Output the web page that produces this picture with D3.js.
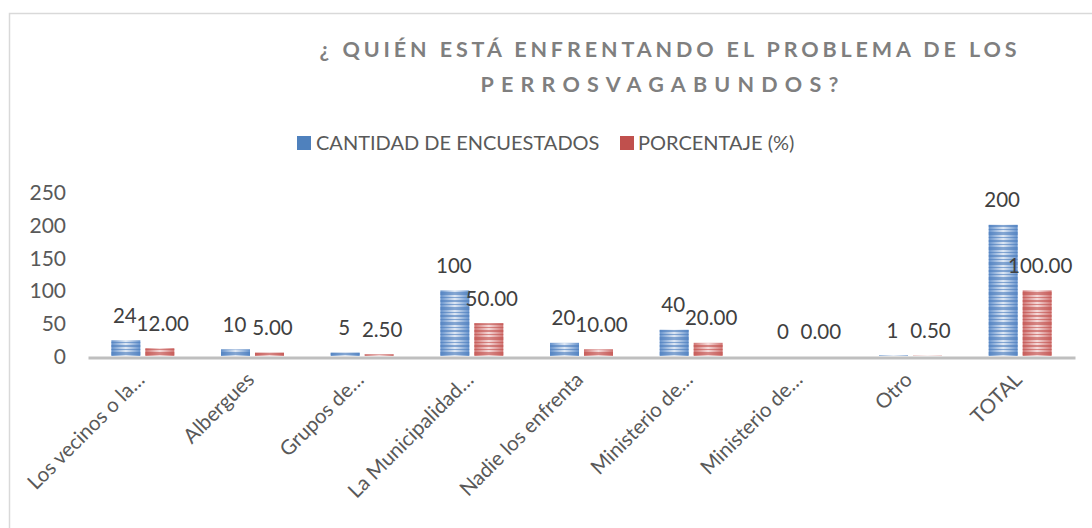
<!DOCTYPE html>
<html>
<head>
<meta charset="utf-8">
<script src="https://cdn.jsdelivr.net/npm/d3@7"></script>
<style>
  html, body { margin: 0; padding: 0; background: #ffffff; }
  svg { display: block; font-family: Lato, "Liberation Sans", sans-serif; }
</style>
</head>
<body>
<svg id="chart" width="1092" height="528"></svg>
<script>
// Survey: who is dealing with the stray dog problem
const categories = [
  "Los vecinos o la…", "Albergues", "Grupos de…", "La Municipalidad…",
  "Nadie los enfrenta", "Ministerio de…", "Ministerio de…", "Otro", "TOTAL"
];
const categoryKeys = ["vecinos", "albergues", "grupos", "municipalidad",
  "nadie", "ministerio1", "ministerio2", "otro", "total"];
const cantidad = [24, 10, 5, 100, 20, 40, 0, 1, 200];
const porcentaje = [12.00, 5.00, 2.50, 50.00, 10.00, 20.00, 0.00, 0.50, 100.00];
const seriesNames = ["CANTIDAD DE ENCUESTADOS", "PORCENTAJE (%)"];
const yTicks = [0, 50, 100, 150, 200, 250];
const titleLines = ["¿ QUIÉN ESTÁ ENFRENTANDO EL PROBLEMA DE LOS", "PERROSVAGABUNDOS?"];

const svg = d3.select("#chart");

// frame around the chart area
svg.append("rect")
  .attr("x", 9.5).attr("y", 13.5)
  .attr("width", 1200).attr("height", 600)
  .attr("fill", "none").attr("stroke", "#d9d9d9").attr("stroke-width", 1.5);

// title
const title = svg.append("g").attr("fill", "#7f7f7f")
  .attr("font-weight", "bold").attr("font-size", 21.5);
title.append("text").attr("x", 670).attr("y", 57).attr("text-anchor", "middle")
  .attr("letter-spacing", 3.9).text(titleLines[0]);
title.append("text").attr("x", 663).attr("y", 92).attr("text-anchor", "middle")
  .attr("letter-spacing", 7.2).text(titleLines[1]);

// fills: horizontal shading plus irregular horizontal stripes
const defs = svg.append("defs");
const palettes = [
  { edge: "#6592cc", mid: "#dfe8f4", stripe: "#4a7cbd", key: "#4f81bd" },
  { edge: "#d07472", mid: "#f5dada", stripe: "#c24e4b", key: "#c0504d" }
];
const stripeRows = [[0, 2], [4, 1], [7, 3], [12, 1], [15, 2], [19, 1], [22, 3], [27, 1]];
palettes.forEach((p, i) => {
  const g = defs.append("linearGradient").attr("id", "shade" + i)
    .attr("x1", "0%").attr("x2", "100%").attr("y1", "0%").attr("y2", "0%");
  g.append("stop").attr("offset", "0%").attr("stop-color", p.edge);
  g.append("stop").attr("offset", "50%").attr("stop-color", p.mid);
  g.append("stop").attr("offset", "100%").attr("stop-color", p.edge);
  const pat = defs.append("pattern").attr("id", "stripes" + i)
    .attr("patternUnits", "userSpaceOnUse").attr("width", 40).attr("height", 30);
  stripeRows.forEach(r => {
    pat.append("rect").attr("x", 0).attr("y", r[0]).attr("width", 40).attr("height", r[1])
      .attr("fill", p.stripe).attr("opacity", 0.6);
  });
});

// scales
const x = d3.scaleBand().domain(categoryKeys).range([88, 1075]).paddingInner(0).paddingOuter(0);
const xSub = d3.scaleBand().domain([0, 1]).range([0, x.bandwidth()])
  .paddingInner(0.147).paddingOuter(0.687);
const y = d3.scaleLinear().domain([0, 250]).range([356, 192]);

// y axis labels (no axis line)
const yAxis = svg.append("g").attr("transform", "translate(66,0)")
  .call(d3.axisLeft(y).tickValues(yTicks).tickSize(0).tickPadding(0).tickFormat(d3.format("d")));
yAxis.select(".domain").remove();
yAxis.selectAll("text").attr("font-family", "Lato, sans-serif").attr("font-size", 21)
  .attr("fill", "#595959").attr("dy", "0.36em");

// bars
const seriesData = [cantidad, porcentaje];
seriesData.forEach((vals, s) => {
  const g = svg.append("g");
  const bars = g.selectAll("g.bar").data(vals).join("g").attr("class", "bar");
  const bx = (d, i) => x(categoryKeys[i]) + xSub(s);
  bars.append("rect")
    .attr("x", bx).attr("y", d => y(d))
    .attr("width", xSub.bandwidth()).attr("height", d => y(0) - y(d))
    .attr("fill", `url(#shade${s})`);
  bars.append("rect")
    .attr("x", bx).attr("y", d => y(d))
    .attr("width", xSub.bandwidth()).attr("height", d => y(0) - y(d))
    .attr("fill", `url(#stripes${s})`);
});

// x axis baseline
svg.append("g").attr("transform", `translate(0,${y(0) + 1.5})`)
  .call(d3.axisBottom(x).tickSize(0).tickFormat(""))
  .call(g => g.select(".domain").attr("stroke", "#bfbfbf").attr("stroke-width", 3));

// data labels
const fmt = [d3.format("d"), d3.format(".2f")];
const labelShift = [-1, 3];
seriesData.forEach((vals, s) => {
  svg.append("g").selectAll("text").data(vals).join("text")
    .attr("x", (d, i) => x(categoryKeys[i]) + xSub(s) + xSub.bandwidth() / 2 + labelShift[s])
    .attr("y", d => y(d) - 17.5)
    .attr("text-anchor", "middle")
    .attr("font-size", 20.5).attr("fill", "#404040")
    .text(d => fmt[s](d));
});

// category labels rotated
svg.append("g").selectAll("text").data(categoryKeys).join("text")
  .attr("transform", d => `translate(${x(d) + x.bandwidth() / 2 + 3},381) rotate(-45)`)
  .attr("text-anchor", "end")
  .attr("font-size", 20.5).attr("fill", "#595959")
  .text((d, i) => categories[i]);

// legend
const legend = svg.append("g");
const legendItems = [{ x: 297, tx: 316 }, { x: 620, tx: 638 }];
legendItems.forEach((it, i) => {
  legend.append("rect").attr("x", it.x).attr("y", 136).attr("width", 14).attr("height", 14)
    .attr("fill", palettes[i].key);
  legend.append("text").attr("x", it.tx).attr("y", 150)
    .attr("font-size", 20).attr("fill", "#595959").text(seriesNames[i]);
});
</script>
</body>
</html>
